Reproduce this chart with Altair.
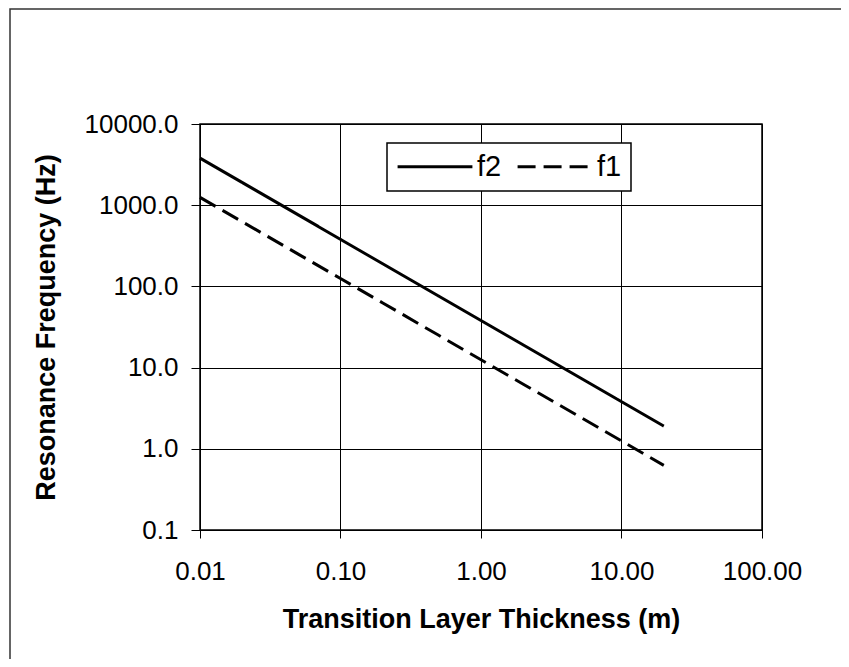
import altair as alt
import pandas as pd

# Data (log-log straight lines)
thickness = [0.01, 0.02, 0.05, 0.1, 0.2, 0.5, 1, 2, 5, 10, 20]
f2_vals = [3800, 1900, 760, 380, 190, 76, 38, 19, 7.6, 3.8, 1.9]
f1_vals = [1250, 625, 250, 125, 62.5, 25, 12.5, 6.25, 2.5, 1.25, 0.625]
series_names = ["f2", "f1"]
x_ticks = [0.01, 0.1, 1, 10, 100]
y_ticks = [0.1, 1, 10, 100, 1000, 10000]

rows = []
for x, a, b in zip(thickness, f2_vals, f1_vals):
    rows.append({"x": x, "f": a, "series": "f2"})
    rows.append({"x": x, "f": b, "series": "f1"})
df = pd.DataFrame(rows)

FONT = "Liberation Sans"

lines = alt.Chart(df).mark_line(strokeWidth=3, color="black").encode(
    x=alt.X("x:Q",
            scale=alt.Scale(type="log", domain=[0.01, 100]),
            axis=alt.Axis(values=x_ticks, format=".2f", title="Transition Layer Thickness (m)",
                          grid=True, gridColor="black", gridWidth=1, gridOpacity=1,
                          domainColor="black", tickColor="black", tickSize=8,
                          labelFontSize=26, labelPadding=20, labelColor="black",
                          titleFontSize=27, titlePadding=22, titleColor="black",
                          labelFont=FONT, titleFont=FONT, labelFlush=False)),
    y=alt.Y("f:Q",
            scale=alt.Scale(type="log", domain=[0.1, 10000]),
            axis=alt.Axis(values=y_ticks, format=".1f", title="Resonance Frequency (Hz)",
                          grid=True, gridColor="black", gridWidth=1, gridOpacity=1,
                          domainColor="black", tickColor="black", tickSize=9,
                          labelFontSize=26, labelPadding=13, labelColor="black",
                          titleFontSize=27, titlePadding=24, titleColor="black",
                          labelFont=FONT, titleFont=FONT)),
    strokeDash=alt.StrokeDash("series:N",
                              scale=alt.Scale(domain=series_names, range=[[1, 0], [18, 8]]),
                              legend=alt.Legend(title=None, orient="none", legendX=187, legendY=19,
                                                direction="horizontal", symbolType="stroke",
                                                symbolSize=5600, symbolStrokeWidth=3,
                                                symbolStrokeColor="black",
                                                labelFontSize=29, labelFont=FONT, labelColor="black",
                                                labelOffset=3, columnPadding=14,
                                                clipHeight=29,
                                                fillColor="white", strokeColor="black",
                                                padding=9)),
    detail="series:N",
)

# Outer page frame: only its left and top edges fall inside the canvas
frame_df = pd.DataFrame({"k": [0]})
frame = alt.Chart(frame_df).mark_rect(fillOpacity=0, stroke="#333333", strokeWidth=1.5).encode(
    x=alt.value(-190), x2=alt.value(720), y=alt.value(-115), y2=alt.value(620))

chart = alt.layer(lines, frame).properties(
    width=562, height=406,
    autosize=alt.AutoSizeParams(type="none"),
    padding={"left": 192, "top": 116, "right": 79, "bottom": 129},
).configure_view(stroke="black", strokeWidth=1.5).configure_legend(strokeWidth=1.5)

chart.save("out.html", embed_options={"renderer": "svg", "actions": False})
